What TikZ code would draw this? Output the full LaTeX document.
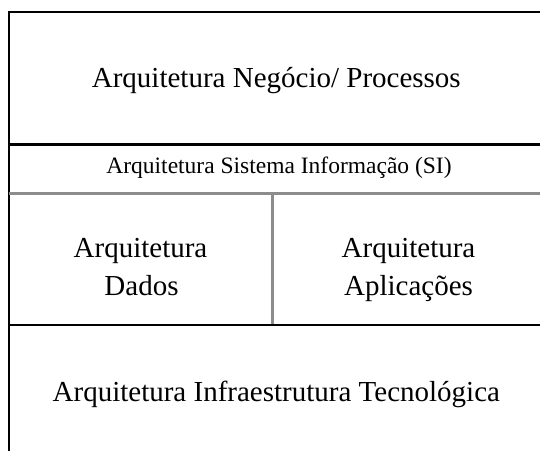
\documentclass[tikz,border=0pt]{standalone}
\usepackage{fontspec}
\setmainfont{Liberation Serif}
\begin{document}
\begin{tikzpicture}[x=1pt,y=-1pt,
  rule/.style={line width=#1, draw=black},
  grayrule/.style={line width=#1, draw=black!45},
  big/.style={font=\fontsize{29}{38}\selectfont, inner sep=0pt, anchor=base},
  small/.style={font=\fontsize{23.5}{28}\selectfont, inner sep=0pt, anchor=base}]
\useasboundingbox (0,0) rectangle (540,450);
\begin{scope}
\clip (0,0) rectangle (540,450);
% grid
\coordinate (tl) at (8.7,12.3);
\draw[rule=2pt] (545,12.3) -- (tl) -- (8.7,460);
\draw[rule=2.4pt] (8.7,144.3) -- (545,144.3);
\draw[grayrule=2.6pt] (8.7,193.3) -- (545,193.3);
\draw[grayrule=2.8pt] (272.7,193.3) -- (272.7,325);
\draw[rule=1.8pt] (8.7,325) -- (545,325);
\end{scope}
% texts
\node[big] (neg) at (276.3,87.3) {Arquitetura Negócio/ Processos};
\node[small] (si) at (279,173.6) {Arquitetura Sistema Informação (SI)};
\node[big] (dadosA) at (140.5,257.2) {Arquitetura};
\node[big] (dadosB) at (141.5,295.9) {Dados};
\node[big] (aplA) at (408.5,257.2) {Arquitetura};
\node[big] (aplB) at (408.5,295.9) {Aplicações};
\node[big] (infra) at (276.3,401) {Arquitetura Infraestrutura Tecnológica};
\end{tikzpicture}
\end{document}
